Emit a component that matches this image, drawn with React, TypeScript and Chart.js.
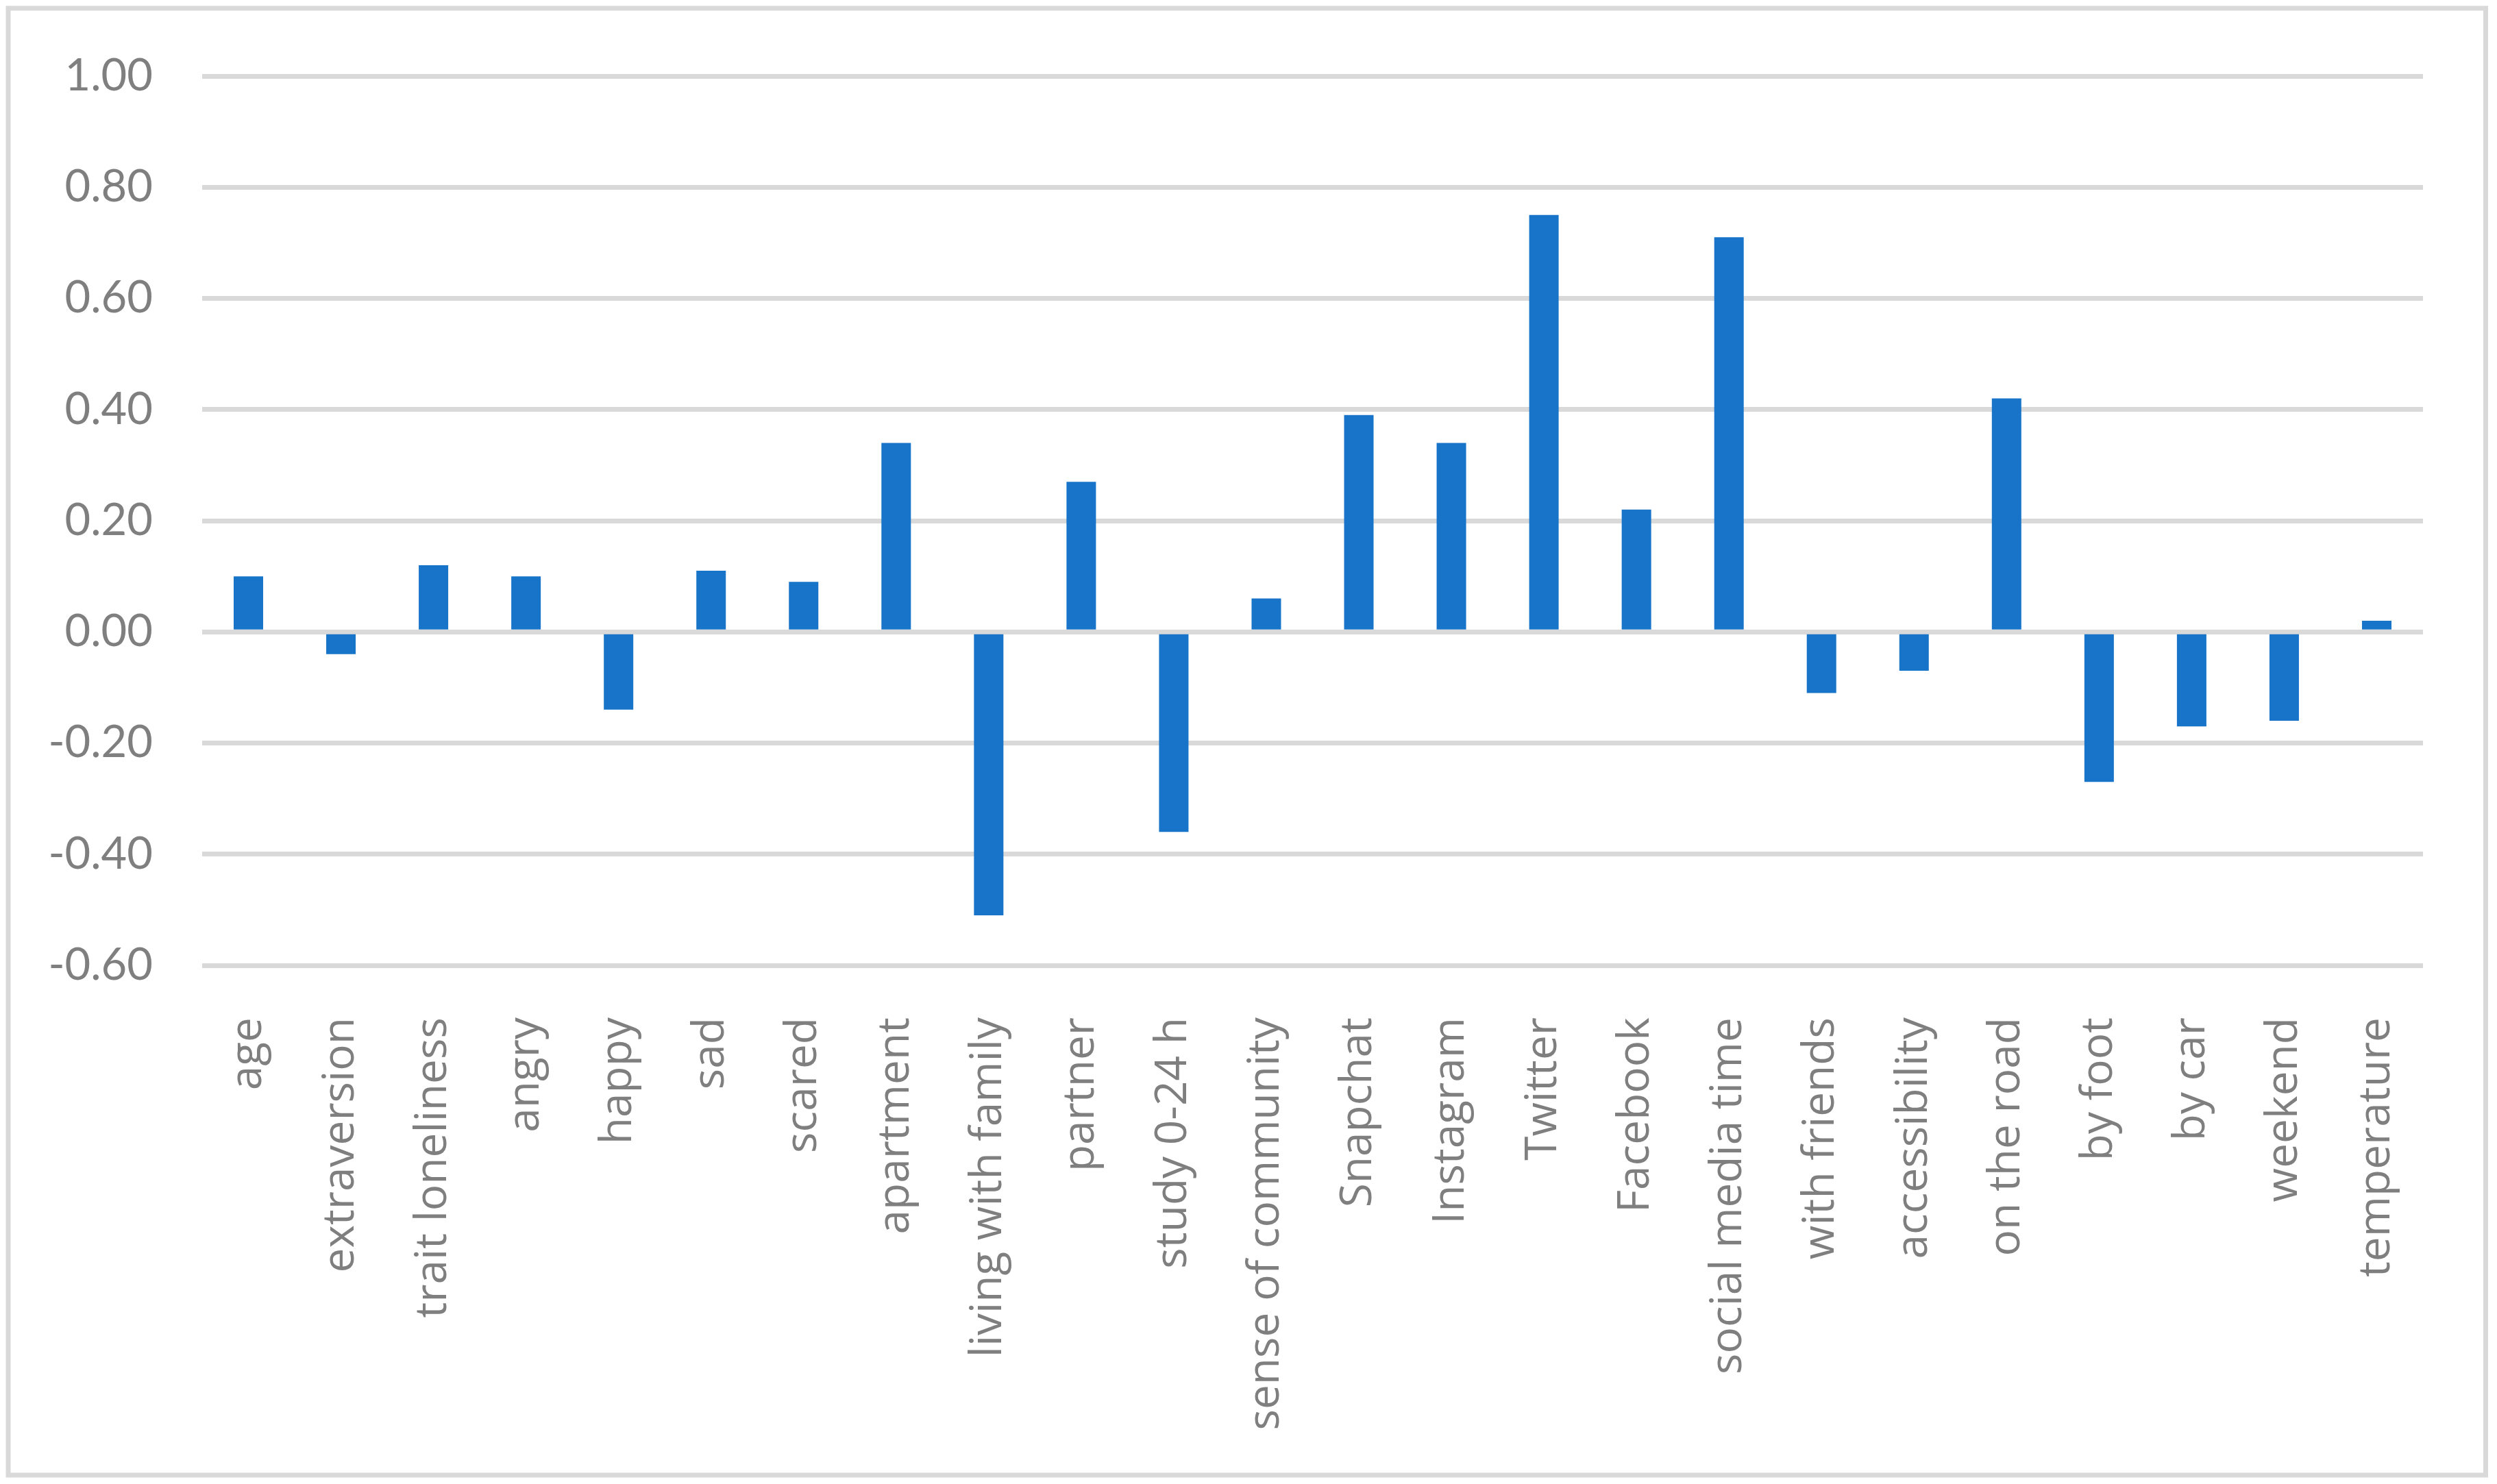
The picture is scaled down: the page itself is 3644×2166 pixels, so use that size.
import React, { useEffect, useRef } from "react";
import { Chart, registerables } from "chart.js";

Chart.register(...registerables);

const categories = [
  "age", "extraversion", "trait loneliness", "angry", "happy", "sad", "scared",
  "apartment", "living with family", "partner", "study 0-24 h", "sense of community",
  "Snapchat", "Instagram", "Twitter", "Facebook", "social media time", "with friends",
  "accessibility", "on the road", "by foot", "by car", "weekend", "temperature",
];

const values = [
  0.10, -0.04, 0.12, 0.10, -0.14, 0.11, 0.09,
  0.34, -0.51, 0.27, -0.36, 0.06,
  0.39, 0.34, 0.75, 0.22, 0.71, -0.11,
  -0.07, 0.42, -0.27, -0.17, -0.16, 0.02,
];

const yMin = -0.6;
const yMax = 1.0;
const yStep = 0.2;

const W = 3644;
const H = 2166;

const borderPlugin = {
  id: "outerBorder",
  beforeDraw(chart: any) {
    const ctx = chart.ctx;
    ctx.save();
    ctx.fillStyle = "#ffffff";
    ctx.fillRect(0, 0, chart.width, chart.height);
    ctx.strokeStyle = "#d9d9d9";
    ctx.lineWidth = 7;
    ctx.strokeRect(12, 12, 3615.5, 2141);
    ctx.restore();
  },
};

export default function App() {
  const ref = useRef<HTMLCanvasElement | null>(null);

  useEffect(() => {
    if (!ref.current) return;
    const chart = new Chart(ref.current, {
      type: "bar",
      data: {
        labels: categories,
        datasets: [
          {
            data: values,
            backgroundColor: "#1874C9",
            borderWidth: 0,
            categoryPercentage: 1,
            barPercentage: 0.3185,
          },
        ],
      },
      options: {
        animation: false,
        responsive: false,
        devicePixelRatio: 1,
        layout: { padding: { top: 104, right: 108, left: 0, bottom: 0 } },
        plugins: {
          legend: { display: false },
          tooltip: { enabled: false },
          title: { display: false },
        },
        scales: {
          x: {
            grid: { display: false, drawTicks: false },
            border: { display: false },
            ticks: {
              maxRotation: 90,
              minRotation: 90,
              autoSkip: false,
              padding: 76,
              color: "#7f7f7f",
              font: { family: "'Open Sans'", size: 64 },
            },
            afterFit(scale: any) {
              scale.height = H - 1409;
            },
          },
          y: {
            min: yMin,
            max: yMax,
            grid: { color: "#d9d9d9", lineWidth: 7, drawTicks: false },
            border: { display: false },
            ticks: {
              stepSize: yStep,
              padding: 72,
              color: "#7f7f7f",
              font: { family: "Lato", size: 65 },
              callback: (v: any) => Number(v).toFixed(2),
            },
            afterFit(scale: any) {
              scale.width = 295;
            },
          },
        },
      },
      plugins: [borderPlugin],
    });
    return () => chart.destroy();
  }, []);

  return (
    <div style={{ position: "fixed", left: 0, top: 0, width: W, height: H, background: "#fff" }}>
      <canvas ref={ref} width={W} height={H} style={{ width: W, height: H, display: "block" }} />
    </div>
  );
}
